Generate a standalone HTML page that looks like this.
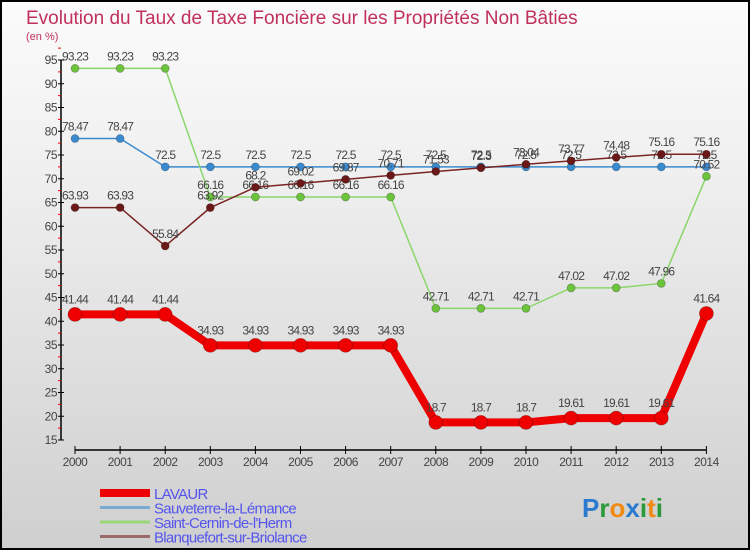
<!DOCTYPE html>
<html><head><meta charset="utf-8"><style>
body{margin:0}
#c{width:750px;height:550px;position:relative;box-sizing:border-box;border:2px solid #000;background:linear-gradient(#fbfbfb,#f0f0f0 30%,#cfcfcf);font-family:"Liberation Sans",sans-serif;overflow:hidden}
</style></head><body>
<div id="c">
<svg id="s" width="746" height="546" style="position:absolute;left:0;top:0"></svg>
</div>
<script>
const years=[2000,2001,2002,2003,2004,2005,2006,2007,2008,2009,2010,2011,2012,2013,2014];
const lavaur=[41.44,41.44,41.44,34.93,34.93,34.93,34.93,34.93,18.7,18.7,18.7,19.61,19.61,19.61,41.64];
const sauveterre=[78.47,78.47,72.5,72.5,72.5,72.5,72.5,72.5,72.5,72.5,72.5,72.5,72.5,72.5,72.5];
const cernin=[93.23,93.23,93.23,66.16,66.16,66.16,66.16,66.16,42.71,42.71,42.71,47.02,47.02,47.96,70.52];
const blanquefort=[63.93,63.93,55.84,63.92,68.2,69.02,69.87,70.71,71.53,72.3,73.04,73.77,74.48,75.16,75.16];
const yTicks=[15,20,25,30,35,40,45,50,55,60,65,70,75,80,85,90,95];
const legendNames=["LAVAUR","Sauveterre-la-Lémance","Saint-Cernin-de-l'Herm","Blanquefort-sur-Briolance"];
const ox=-2,oy=-2;
const X=i=>75+i*45.1+ox;
const Y=v=>440-(v-15)*4.75+oy;
const s=document.getElementById('s');
function el(t,a,txt){const e=document.createElementNS('http://www.w3.org/2000/svg',t);for(const k in a)e.setAttribute(k,a[k]);if(txt!==undefined)e.textContent=txt;s.appendChild(e);return e;}
let e;
e=el('text',{x:26+ox,y:24+oy,'font-size':19,fill:'#c0305a'},'Evolution du Taux de Taxe Foncière sur les Propriétés Non Bâties');

e=el('text',{x:26+ox,y:40+oy,'font-size':11,fill:'#c0305a'},'(en %)');

// y axis
e=el('line',{x1:61+ox,y1:60+oy,x2:61+ox,y2:Y(15),stroke:'#000','stroke-width':1.5});

yTicks.forEach(v=>{
 e=el('line',{x1:58+ox,y1:Y(v),x2:64+ox,y2:Y(v),stroke:'#000'});
 
 e=el('line',{x1:58+ox,y1:Y(v+2.5),x2:61+ox,y2:Y(v+2.5),stroke:'#e00'});
 
 e=el('text',{x:57+ox,y:Y(v)+4,'font-size':12,fill:'#444','text-anchor':'end','letter-spacing':'-0.5'},v);
 
});
// x axis
e=el('line',{x1:X(0),y1:450+oy,x2:X(14),y2:450+oy,stroke:'#000','stroke-width':1.5});

years.forEach((y,i)=>{
 e=el('line',{x1:X(i),y1:446+oy,x2:X(i),y2:454+oy,stroke:'#000'});
 
 e=el('text',{x:X(i),y:466+oy,'font-size':12,fill:'#444','text-anchor':'middle','letter-spacing':'-0.5'},y);
 
});
const series=[
 {d:sauveterre,c:'#3a8ad0',w:1.5,r:4,n:'sauveterre'},
 {d:cernin,c:'#8ad66a',w:1.5,r:4,n:'cernin',fc:'#6cc33c'},
 {d:blanquefort,c:'#7a2424',w:1.5,r:4,n:'blanquefort',fc:'#6a1818'},
 {d:lavaur,c:'#ee0000',w:8,r:7,n:'lavaur'}
];
series.forEach(sr=>{
 e=el('polyline',{points:sr.d.map((v,i)=>X(i)+','+Y(v)).join(' '),fill:'none',stroke:sr.c,'stroke-width':sr.w,'stroke-linejoin':'round'});
 
 sr.d.forEach((v,i)=>{
  e=el('circle',{cx:X(i),cy:Y(v),r:sr.r,fill:sr.fc||sr.c,stroke:'rgba(0,0,0,0.3)','stroke-width':0.7});
  
  e=el('text',{x:X(i),y:Y(v)-(sr.n==='lavaur'?11:8),'font-size':12,fill:'#444','text-anchor':'middle','letter-spacing':'-0.8'},String(v));
  
 });
});
// legend
const lc=['#ee0000','#7aaad0','#9ad67a','#9a6a6a'],lw=[8,3,3,3];
legendNames.forEach((n,i)=>{
 const yy=493+i*14.5+oy;
 e=el('line',{x1:100+ox,y1:yy,x2:150+ox,y2:yy,stroke:lc[i],'stroke-width':lw[i]});
 
 e=el('text',{x:154+ox,y:yy+6,'font-size':15,fill:'#5555ee','letter-spacing':'-0.7'},n);
 
});
// logo
const lg=[['P','#2a7ad0'],['r','#2a9a3a'],['o','#f08a10'],['x','#2a7ad0'],['i','#2a9a3a'],['t','#f08a10'],['i','#2a9a3a']];
let lx=582+ox;
const g=el('text',{x:lx,y:517+oy,'font-size':26,'font-weight':'bold'});

lg.forEach(([ch,c])=>{const t=document.createElementNS('http://www.w3.org/2000/svg','tspan');t.setAttribute('fill',c);t.textContent=ch;g.appendChild(t);});
</script>
</body></html>
